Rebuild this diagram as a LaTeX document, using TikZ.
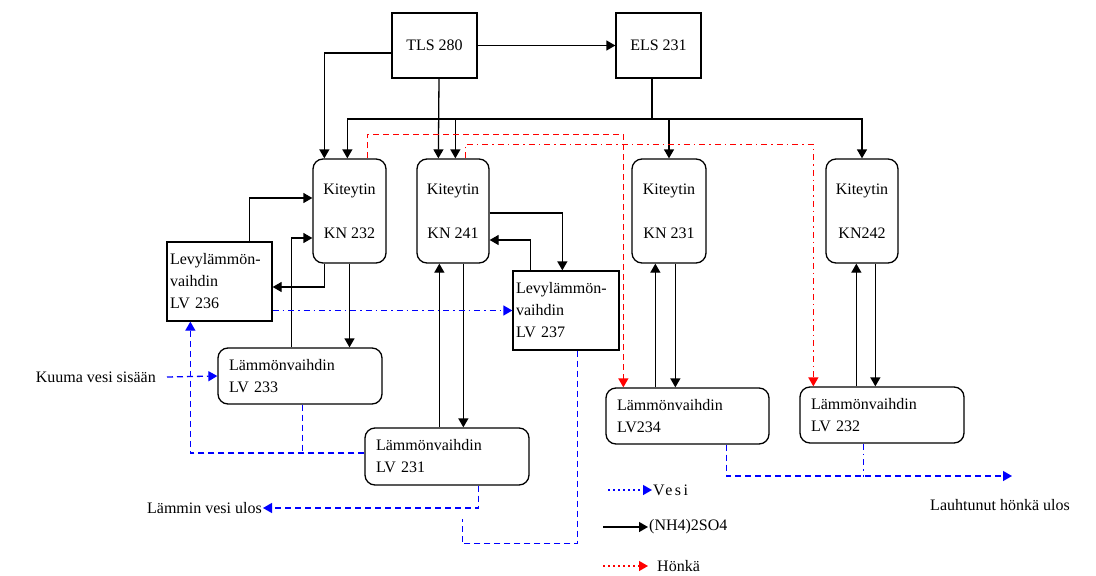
\documentclass[tikz,border=0pt]{standalone}
\usepackage{fontspec}
\setmainfont{Liberation Serif}
\usetikzlibrary{arrows.meta,calc}
\tikzset{
  bx/.style={draw=black, line width=1.3pt, align=center, inner sep=3pt},
  src/.style={bx, minimum width=85pt, minimum height=65pt},
  kit/.style={bx, rounded corners=10pt, minimum width=73pt, minimum height=104pt},
  lvp/.style={bx, align=left, inner xsep=3pt, text width=99pt, minimum height=79pt},
  lvr/.style={bx, rounded corners=10pt, align=left, inner xsep=11pt, text width=142pt, minimum height=56pt},
  tip/.style={-{Triangle[length=9pt,width=10pt]}},
  arr/.style={tip, line width=1.3pt, color=black},
  wat/.style={tip, line width=1.3pt, color=blue, dash pattern=on 6pt off 4pt},
  watdd/.style={wat, dash pattern=on 6pt off 4pt on 1.5pt off 4pt},
  hon/.style={tip, line width=1.3pt, color=red, dash pattern=on 6pt off 4pt},
  hondd/.style={hon, dash pattern=on 6pt off 4pt on 1.5pt off 4pt},
  dots/.style={dash pattern=on 2pt off 3pt},
  lbl/.style={inner sep=1pt},
}
\begin{document}
\begin{tikzpicture}[x=1pt,y=-1pt,font=\fontsize{16}{22}\selectfont]
  \path[use as bounding box, fill=white] (0,0) rectangle (1096,576);
  \node[src] (tls) at (434.5,45.5) {TLS 280};
  \node[src] (els) at (658.5,45.5) {ELS 231};
  \node[kit] (kn232) at (349.5,211) {Kiteytin\\[22pt]KN 232};
  \node[kit, minimum width=72pt] (kn241) at (453,211) {Kiteytin\\[22pt]KN 241};
  \node[kit, minimum width=74pt] (kn231) at (669,211) {Kiteytin\\[22pt]KN 231};
  \node[kit, minimum width=72pt] (kn242) at (862,211) {Kiteytin\\[22pt]KN242};
  \node[lvp] (lv236) at (219.5,281.5) {Levylämmön-\\vaihdin\\LV 236};
  \node[lvp, text width=100pt] (lv237) at (566,310.5) {Levylämmön-\\vaihdin\\LV 237};
  \node[lvr] (lv233) at (300,376) {Lämmönvaihdin\\LV 233};
  \node[lvr, minimum height=57pt] (lv231) at (447,456.5) {Lämmönvaihdin\\LV 231};
  \node[lvr, text width=141pt] (lv234) at (687.5,416) {Lämmönvaihdin\\LV234};
  \node[lvr] (lv232) at (882,415) {Lämmönvaihdin\\LV 232};
  \node[lbl, anchor=east] (kuuma) at (157,377) {Kuuma vesi sisään};
  \node[lbl, anchor=east] (lammin) at (263,508) {Lämmin vesi ulos};
  \node[lbl] (lauh) at (1000,505) {Lauhtunut hönkä ulos};
  \node[lbl, anchor=west] (lgv) at (652,490) {\addfontfeature{LetterSpace=15}Vesi};
  \node[lbl, anchor=west] (lgn) at (648,527) {(NH4)2SO4};
  \node[lbl, anchor=west] (lgh) at (656,566) {Hönkä};
  \coordinate (bus) at (652,119);
  \coordinate (hout) at (1012,476);

  \draw[arr] (tls.east) -- (els.west);
  \draw[arr] ($(tls.west)+(0,7.5)$) -| ($(kn232.north west)+(12,0)$);
  \draw[arr] ($(tls.south)+(4.5,0)$) -- ($(kn241.north west)+(22,0)$);
  \draw[line width=1.3pt] ($(els.south)+(-6.5,0)$) -- (bus);
  \draw[arr] (bus) -| ($(kn232.north west)+(35,0)$);
  \draw[arr] (bus) -| ($(kn241.north west)+(39,0)$);
  \draw[arr] (bus) -| (kn231.north);
  \draw[arr] (bus) -| (kn242.north);
  \draw[arr] ($(lv236.north west)+(83,0)$) |- ($(kn232.west)+(0,-13)$);
  \draw[arr] ($(kn232.south west)+(12,0)$) |- ($(lv236.east)+(0,5.5)$);
  \draw[arr] ($(lv233.north west)+(74,0)$) |- ($(kn232.west)+(0,27)$);
  \draw[arr] (kn232.south) -- (kn232.south |- lv233.north);
  \draw[arr] ($(kn241.east)+(0,2)$) -| ($(lv237.north west)+(50,0)$);
  \draw[arr] ($(lv237.north west)+(18,0)$) |- ($(kn241.east)+(0,29)$);
  \draw[arr] ($(lv231.north west)+(75,0)$) -- ($(kn241.south west)+(23,0)$);
  \draw[arr] ($(kn241.south west)+(47,0)$) -- ($(lv231.north west)+(99,0)$);
  \draw[arr] ($(lv234.north west)+(50,0)$) -- ($(kn231.south west)+(24,0)$);
  \draw[arr] ($(kn231.south west)+(44,0)$) -- ($(lv234.north west)+(70,0)$);
  \draw[arr] ($(lv232.north west)+(57,0)$) -- ($(kn242.south west)+(31,0)$);
  \draw[arr] ($(kn242.south west)+(50,0)$) -- ($(lv232.north west)+(76,0)$);

  \draw[hon] ($(kn232.north west)+(55,0)$) -- ++(0,-24) -| ($(lv234.north west)+(18,0)$);
  \draw[hondd] ($(kn241.north west)+(49,0)$) -- ++(0,-14) -| ($(lv232.north west)+(14,0)$);

  \draw[watdd] (lv236.south east |- lv237.west) -- (lv237.west);
  \draw[wat] ($(kuuma.east)+(10,0)$) -- (lv233.west);
  \draw[wat] ($(lv231.west)+(0,-3.5)$) -| ($(lv236.south west)+(24,0)$);
  \draw[wat, -] ($(lv233.south west)+(85,0)$) -- ++(0,49);
  \draw[wat] ($(lv231.south west)+(114,0)$) |- (lammin.east);
  \draw[wat, -] ($(lv237.south west)+(65,0)$) -- ++(0,193) -- ++(-115,0) -- ++(0,-25);
  \draw[wat] ($(lv234.south west)+(121,0)$) |- (hout);
  \draw[watdd, -] ($(lv232.south west)+(64,0)$) -- ++(0,33);

  \draw[wat, dots] ($(lgv.west)+(-44,0)$) -- (lgv.west);
  \draw[arr] ($(lgn.west)+(-45,0)$) -- (lgn.west);
  \draw[hon, dots] ($(lgh.west)+(-53,0)$) -- ($(lgh.west)+(-8,0)$);
\end{tikzpicture}
\end{document}
